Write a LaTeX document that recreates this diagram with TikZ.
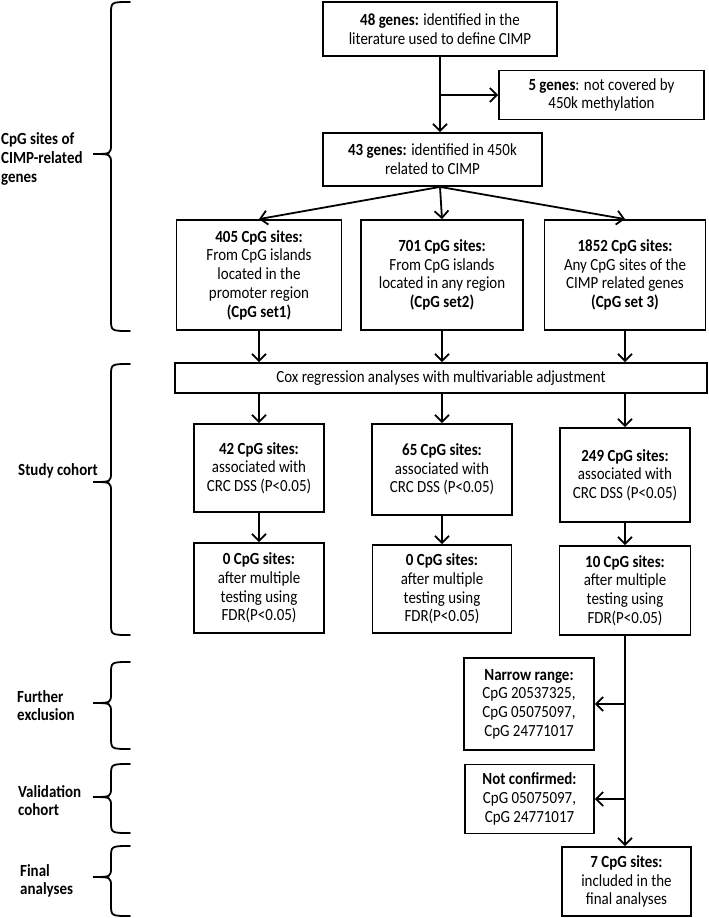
\documentclass[tikz,border=0pt]{standalone}
\usepackage{fontspec}
\setmainfont{Carlito}[FakeStretch=0.88]
\usetikzlibrary{arrows.meta}
\begin{document}
\begin{tikzpicture}[x=1pt,y=-1pt,
  box/.style={draw, line width=1.8pt, align=center, inner sep=2pt, font=\fontsize{17}{18.7}\selectfont},
  arr/.style={-{Straight Barb[length=7pt,width=14pt]}, line width=1.8pt},
  brc/.style={line width=1.8pt, line cap=round},
  grp/.style={anchor=west, align=left, inner sep=0pt, font=\fontsize{17}{18.7}\selectfont\bfseries}]
		\useasboundingbox (0,0) rectangle (709,918);
		
		% genes
		\node[box, minimum width=234pt, minimum height=54pt] (genes48) at (440,29) {\textbf{48 genes:} identified in the\\literature used to define CIMP};
		\node[box, minimum width=205pt, minimum height=49pt] (genes5) at (601.5,95) {\textbf{5 genes}: not covered by\\450k methylation};
		\node[box, minimum width=219pt, minimum height=53pt] (genes43) at (432.5,159.5) {\textbf{43 genes:} identified in 450k\\related to CIMP};
		
		% CpG sets
		\node[box, minimum width=165pt, minimum height=110pt] (set1) at (259,275) {\textbf{405 CpG sites:}\\From CpG islands\\located in the\\promoter region\\\textbf{(CpG set1)}};
		\node[box, minimum width=162pt, minimum height=110pt] (set2) at (442,275) {\textbf{701 CpG sites:}\\From CpG islands\\located in any region\\\textbf{(CpG set2)}};
		\node[box, minimum width=161pt, minimum height=110pt] (set3) at (625,275) {\textbf{1852 CpG sites:}\\Any CpG sites of the\\CIMP related genes\\\textbf{(CpG set 3)}};
		
		\node[box, minimum width=532pt, minimum height=30pt] (cox) at (441,378) {Cox regression analyses with multivariable adjustment};
		
		% study cohort
		\node[box, minimum width=130pt, minimum height=88pt] (assoc1) at (259,468) {\textbf{42 CpG sites:}\\associated with\\CRC DSS (P<0.05)};
		\node[box, minimum width=140pt, minimum height=91pt] (assoc2) at (442,469.5) {\textbf{65 CpG sites:}\\associated with\\CRC DSS (P<0.05)};
		\node[box, minimum width=130pt, minimum height=94pt] (assoc3) at (625,475) {\textbf{249 CpG sites:}\\associated with\\CRC DSS (P<0.05)};
		
		\node[box, minimum width=130pt, minimum height=90pt] (fdr1) at (259,588) {\textbf{0 CpG sites:}\\after multiple\\testing using\\FDR(P<0.05)};
		\node[box, minimum width=139pt, minimum height=88pt] (fdr2) at (442,589) {\textbf{0 CpG sites:}\\after multiple\\testing using\\FDR(P<0.05)};
		\node[box, minimum width=131pt, minimum height=89pt] (fdr3) at (625,590.5) {\textbf{10 CpG sites:}\\after multiple\\testing using\\FDR(P<0.05)};
		
		% exclusion, validation, final
		\node[box, minimum width=130pt, minimum height=92pt] (narrow) at (529,704) {\textbf{Narrow range:}\\CpG 20537325,\\CpG 05075097,\\CpG 24771017};
		\node[box, minimum width=129pt, minimum height=69pt] (notconf) at (529.5,799) {\textbf{Not confirmed:}\\CpG 05075097,\\CpG 24771017};
		\node[box, minimum width=129pt, minimum height=69pt] (final) at (626.5,881.5) {\textbf{7 CpG sites:}\\included in the\\final analyses};
		
		% arrows
		\draw[arr] (genes48.south) -- (genes48.south |- genes43.north);
		\draw[arr] (genes48.south |- genes5.west) -- (genes5.west);
		\coordinate (split) at (genes48.south |- genes43.south);
		\draw[arr] (split) -- (set1.north);
		\draw[arr] (split) -- (set2.north);
		\draw[arr] (split) -- (set3.north);
		\foreach \s in {1,2,3}{
			\draw[arr] (set\s.south) -- (set\s.south |- cox.north);
			\draw[arr] (assoc\s.north |- cox.south) -- (assoc\s.north);
			\draw[arr] (assoc\s.south) -- (fdr\s.north);
		}
		\draw[arr] (fdr3.south) -- (fdr3.south |- final.north);
		\draw[arr] (fdr3.south |- narrow.east) -- (narrow.east);
		\draw[arr] (fdr3.south |- notconf.east) -- (notconf.east);
		
		% braces and group labels
		\foreach \ya/\yb/\ym in {2/331/154, 364/635/482, 662/749/703, 764/833/797, 846/916/877}
			\draw[brc] (130,\ya) .. controls (111,\ya) .. (111,\ya+12) -- (111,\ym-10) .. controls (111,\ym) .. (93,\ym) .. controls (111,\ym) .. (111,\ym+10) -- (111,\yb-12) .. controls (111,\yb) .. (130,\yb);
		\node[grp] (lbl1) at (1,159) {CpG sites of\\CIMP-related\\genes};
		\node[grp] (lbl2) at (18,471) {Study cohort};
		\node[grp] (lbl3) at (17,705.5) {Further\\exclusion};
		\node[grp] (lbl4) at (18,800.5) {Validation\\cohort};
		\node[grp] (lbl5) at (20,881) {Final\\analyses};
		\end{tikzpicture}
\end{document}
